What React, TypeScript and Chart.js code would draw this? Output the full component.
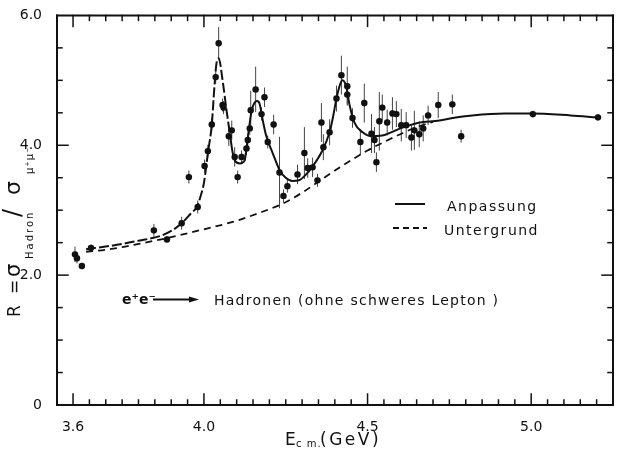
import React, { useEffect, useRef, useState } from "react";
import { Chart, registerables } from "chart.js";

Chart.register(...registerables);

// ---- data ----
const pointE = [3.606, 3.612, 3.627, 3.655, 3.847, 3.887, 3.932, 3.954, 3.981, 4.002, 4.012, 4.024, 4.036, 4.045, 4.057, 4.06, 4.076, 4.085, 4.094, 4.103, 4.115, 4.13, 4.134, 4.14, 4.143, 4.158, 4.185, 4.176, 4.213, 4.195, 4.231, 4.255, 4.243, 4.286, 4.307, 4.317, 4.332, 4.347, 4.359, 4.365, 4.384, 4.405, 4.42, 4.438, 4.438, 4.454, 4.478, 4.49, 4.512, 4.521, 4.527, 4.536, 4.545, 4.56, 4.576, 4.588, 4.603, 4.618, 4.634, 4.643, 4.658, 4.67, 4.685, 4.716, 4.759, 4.786, 5.005, 5.204];
const pointR = [2.32, 2.26, 2.14, 2.42, 2.69, 2.55, 2.8, 3.51, 3.05, 3.68, 3.91, 4.32, 5.05, 5.57, 4.62, 4.58, 4.14, 4.23, 3.82, 3.51, 3.82, 3.95, 4.08, 4.26, 4.54, 4.86, 4.74, 4.48, 4.32, 4.05, 3.58, 3.37, 3.22, 3.55, 3.88, 3.65, 3.66, 3.46, 4.35, 3.97, 4.2, 4.72, 5.08, 4.91, 4.78, 4.42, 4.05, 4.65, 4.18, 4.08, 3.74, 4.37, 4.58, 4.35, 4.49, 4.48, 4.31, 4.31, 4.12, 4.23, 4.17, 4.26, 4.46, 4.62, 4.63, 4.14, 4.48, 4.43];
const pointErr = [0.12, 0.08, 0, 0.05, 0.1, 0.05, 0.1, 0.1, 0.1, 0.1, 0.1, 0.1, 0.1, 0.25, 0.1, 0.1, 0.15, 0.15, 0.15, 0.1, 0.1, 0.1, 0.1, 0.1, 0.3, 0.35, 0.15, 0.1, 0.15, 0.1, 0.55, 0.1, 0.1, 0.15, 0.4, 0.15, 0.15, 0.1, 0.3, 0.2, 0.2, 0.2, 0.3, 0.3, 0.15, 0.15, 0.2, 0.3, 0.3, 0.2, 0.15, 0.45, 0.2, 0.2, 0.25, 0.2, 0.25, 0.2, 0.2, 0.3, 0.2, 0.2, 0.15, 0.2, 0.15, 0.1, 0.05, 0.05];

const fitE = [3.64, 3.7, 3.75, 3.8, 3.865, 3.9, 3.932, 3.96, 3.978, 3.99, 4.0, 4.012, 4.024, 4.032, 4.038, 4.045, 4.057, 4.069, 4.08, 4.088, 4.095, 4.11, 4.124, 4.13, 4.137, 4.146, 4.155, 4.162, 4.17, 4.18, 4.19, 4.21, 4.231, 4.25, 4.27, 4.29, 4.31, 4.33, 4.36, 4.384, 4.395, 4.405, 4.415, 4.423, 4.435, 4.445, 4.46, 4.485, 4.51, 4.545, 4.6, 4.65, 4.72, 4.76, 4.82, 4.92, 5.0, 5.12, 5.2];
const fitR = [2.4, 2.44, 2.48, 2.53, 2.6, 2.68, 2.8, 2.95, 3.05, 3.22, 3.42, 3.88, 4.32, 4.9, 5.25, 5.34, 5.0, 4.54, 4.15, 3.88, 3.76, 3.72, 3.76, 3.95, 4.23, 4.54, 4.66, 4.68, 4.64, 4.38, 4.15, 3.88, 3.62, 3.5, 3.45, 3.46, 3.54, 3.66, 3.9, 4.2, 4.45, 4.72, 4.92, 5.0, 4.9, 4.62, 4.35, 4.2, 4.14, 4.15, 4.26, 4.34, 4.38, 4.42, 4.46, 4.49, 4.49, 4.46, 4.43];

const bgE = [3.64, 3.7, 3.75, 3.8, 3.887, 3.987, 4.088, 4.17, 4.24, 4.3, 4.35, 4.4, 4.45, 4.5, 4.55, 4.6, 4.65, 4.7];
const bgR = [2.36, 2.39, 2.43, 2.48, 2.57, 2.69, 2.82, 2.96, 3.1, 3.27, 3.44, 3.61, 3.77, 3.92, 4.05, 4.17, 4.28, 4.36];

const X_MIN = 3.551;
const X_MAX = 5.25;
const Y_MIN = 0;
const Y_MAX = 6;
const xTickValues = [3.6, 4.0, 4.5, 5.0];
const xTickLabels = ["3.6", "4.0", "4.5", "5.0"];
const yTickValues = [0, 2, 4, 6];
const yTickLabels = ["0", "2.0", "4.0", "6.0"];
const legendLabels = ["Anpassung", "Untergrund"];
const reactionFrom = "e\u207Ae\u207B";
const reactionTo = "Hadronen (ohne schweres Lepton )";

const INK = "#111";
const FONT = "'DejaVu Sans'";

type Seg = { x1: number; y1: number; x2: number; y2: number; w: number };

// frame + inward tick marks, positioned through the chart's own scales
function frameSegments(chart: any): Seg[] {
  const x = chart.scales.x;
  const y = chart.scales.y;
  const l = x.getPixelForValue(X_MIN);
  const r = x.getPixelForValue(X_MAX);
  const t = y.getPixelForValue(Y_MAX);
  const b = y.getPixelForValue(Y_MIN);
  const segs: Seg[] = [
    { x1: l, y1: t, x2: r, y2: t, w: 2 },
    { x1: r, y1: t, x2: r, y2: b, w: 2 },
    { x1: r, y1: b, x2: l, y2: b, w: 2 },
    { x1: l, y1: b, x2: l, y2: t, w: 2 },
  ];
  for (let k = -2; k < 40; k++) {
    const v = Math.round((3.6 + 0.05 * k) * 1000) / 1000;
    if (v <= X_MIN + 0.005 || v >= X_MAX - 0.005) continue;
    const px = x.getPixelForValue(v);
    const major = xTickValues.some((q) => Math.abs(q - v) < 1e-6);
    const len = major ? 11 : 5;
    segs.push({ x1: px, y1: b, x2: px, y2: b - len, w: 1.5 });
    segs.push({ x1: px, y1: t, x2: px, y2: t + len, w: 1.5 });
  }
  for (let k = 1; k < 12; k++) {
    const v = k * 0.5;
    const py = y.getPixelForValue(v);
    const major = yTickValues.some((q) => Math.abs(q - v) < 1e-6);
    const len = major ? 11 : 5;
    segs.push({ x1: l, y1: py, x2: l + len, y2: py, w: 1.5 });
    segs.push({ x1: r, y1: py, x2: r - len, y2: py, w: 1.5 });
  }
  return segs;
}

const decor = {
  id: "decor",
  beforeDatasetsDraw(chart: any) {
    const ctx = chart.ctx;
    const x = chart.scales.x;
    const y = chart.scales.y;
    ctx.save();
    ctx.strokeStyle = "#444";
    ctx.lineWidth = 1;
    pointE.forEach((e, i) => {
      const err = pointErr[i];
      if (!err) return;
      const px = x.getPixelForValue(e);
      ctx.beginPath();
      ctx.moveTo(px, y.getPixelForValue(pointR[i] - err));
      ctx.lineTo(px, y.getPixelForValue(pointR[i] + err));
      ctx.stroke();
    });
    ctx.restore();
  },
  afterDraw(chart: any) {
    const ctx = chart.ctx;
    ctx.save();
    ctx.setLineDash([]);
    ctx.strokeStyle = INK;
    ctx.fillStyle = INK;
    ctx.textBaseline = "alphabetic";
    ctx.textAlign = "left";

    // legend
    ctx.lineWidth = 2;
    ctx.beginPath();
    ctx.moveTo(395, 204);
    ctx.lineTo(425, 204);
    ctx.stroke();
    ctx.setLineDash([6, 4]);
    ctx.beginPath();
    ctx.moveTo(393, 228);
    ctx.lineTo(427, 228);
    ctx.stroke();
    ctx.setLineDash([]);
    ctx.font = `14px ${FONT}`;
    (ctx as any).letterSpacing = "1.5px";
    ctx.fillText(legendLabels[0], 447, 211);
    ctx.fillText(legendLabels[1], 444, 235);

    // reaction annotation
    (ctx as any).letterSpacing = "0px";
    ctx.font = `bold 14px ${FONT}`;
    ctx.fillText(reactionFrom, 122, 304);
    ctx.lineWidth = 1.8;
    ctx.beginPath();
    ctx.moveTo(153, 299.5);
    ctx.lineTo(191, 299.5);
    ctx.stroke();
    ctx.beginPath();
    ctx.moveTo(199, 299.5);
    ctx.lineTo(189, 296.5);
    ctx.lineTo(189, 302.5);
    ctx.closePath();
    ctx.fill();
    ctx.font = `14px ${FONT}`;
    (ctx as any).letterSpacing = "1.25px";
    ctx.fillText(reactionTo, 214, 305);

    // x axis title
    (ctx as any).letterSpacing = "0px";
    ctx.font = `17px ${FONT}`;
    ctx.fillText("E", 285, 445);
    ctx.font = `10px ${FONT}`;
    (ctx as any).letterSpacing = "1px";
    ctx.fillText("c m.", 296, 447);
    ctx.font = `17px ${FONT}`;
    (ctx as any).letterSpacing = "2.5px";
    ctx.fillText("(GeV)", 320, 445);

    // y axis title (rotated)
    ctx.translate(20, 317);
    ctx.rotate(-Math.PI / 2);
    const parts = [
      { t: "R", at: 0, size: 17, dy: 0, sp: 0 },
      { t: "=", at: 23, size: 17, dy: 0, sp: 0 },
      { t: "\u03C3", at: 40, size: 21, dy: 0, sp: 0 },
      { t: "Hadron", at: 58, size: 10, dy: 13, sp: 2 },
      { t: "/", at: 100, size: 24, dy: 0, sp: 0 },
      { t: "\u03C3", at: 122, size: 22, dy: 0, sp: 0 },
      { t: "\u03BC\u207A\u03BC\u207B", at: 143, size: 10, dy: 13, sp: 1 },
    ];
    parts.forEach((p) => {
      ctx.font = `${p.size}px ${FONT}`;
      (ctx as any).letterSpacing = `${p.sp}px`;
      ctx.fillText(p.t, p.at, p.dy);
    });
    ctx.restore();
  },
};

export default function App() {
  const ref = useRef<HTMLCanvasElement | null>(null);
  const [segs, setSegs] = useState<Seg[]>([]);
  useEffect(() => {
    if (!ref.current) return;
    const chart = new Chart(ref.current, {
      type: "scatter",
      data: {
        datasets: [
          {
            type: "line",
            label: "Untergrund",
            data: bgE.map((e, i) => ({ x: e, y: bgR[i] })),
            borderColor: INK,
            borderWidth: 1.8,
            borderDash: [7, 5],
            pointRadius: 0,
            cubicInterpolationMode: "monotone",
            fill: false,
          } as any,
          {
            type: "line",
            label: "Anpassung",
            data: fitE.map((e, i) => ({ x: e, y: fitR[i] })),
            borderColor: INK,
            borderWidth: 2,
            pointRadius: 0,
            cubicInterpolationMode: "monotone",
            fill: false,
            segment: {
              borderDash: (c: any) => (c.p0.parsed.x < 4.07 ? [10, 3] : undefined),
            },
          } as any,
          {
            type: "scatter",
            label: "Daten",
            data: pointE.map((e, i) => ({ x: e, y: pointR[i] })),
            backgroundColor: INK,
            pointRadius: 3.2,
          },
        ],
      },
      options: {
        animation: false,
        responsive: false,
        layout: { padding: { top: 14, right: 4 } },
        plugins: { legend: { display: false }, tooltip: { enabled: false } },
        scales: {
          x: {
            type: "linear",
            min: X_MIN,
            max: X_MAX,
            grid: { display: false },
            border: { display: false },
            afterBuildTicks: (s: any) => {
              s.ticks = xTickValues.map((v) => ({ value: v }));
            },
            afterFit: (s: any) => {
              s.height = 49;
            },
            ticks: {
              autoSkip: false,
              maxRotation: 0,
              padding: 6,
              color: INK,
              font: { family: "DejaVu Sans", size: 14 },
              callback: (v: any) => {
                const i = xTickValues.findIndex((t) => Math.abs(t - v) < 1e-6);
                return i >= 0 ? xTickLabels[i] : "";
              },
            },
          },
          y: {
            min: Y_MIN,
            max: Y_MAX,
            grid: { display: false },
            border: { display: false },
            afterBuildTicks: (s: any) => {
              s.ticks = yTickValues.map((v) => ({ value: v }));
            },
            afterFit: (s: any) => {
              s.width = 57;
            },
            ticks: {
              autoSkip: false,
              padding: 7,
              color: INK,
              font: { family: "DejaVu Sans", size: 14 },
              callback: (v: any) => {
                const i = yTickValues.findIndex((t) => Math.abs(t - v) < 1e-6);
                return i >= 0 ? yTickLabels[i] : "";
              },
            },
          },
        },
      },
      plugins: [decor],
    });
    setSegs(frameSegments(chart));
    return () => chart.destroy();
  }, []);
  return (
    <div style={{ position: "absolute", left: 0, top: 0, width: 618, height: 454 }}>
      <canvas ref={ref} width={618} height={454} style={{ position: "absolute", left: 0, top: 0 }} />
      <svg
        width={618}
        height={454}
        style={{ position: "absolute", left: 0, top: 0, pointerEvents: "none" }}
      >
        {segs.map((s, i) => (
          <line
            key={i}
            x1={s.x1}
            y1={s.y1}
            x2={s.x2}
            y2={s.y2}
            stroke={INK}
            strokeWidth={s.w}
            strokeLinecap="square"
          />
        ))}
      </svg>
    </div>
  );
}
